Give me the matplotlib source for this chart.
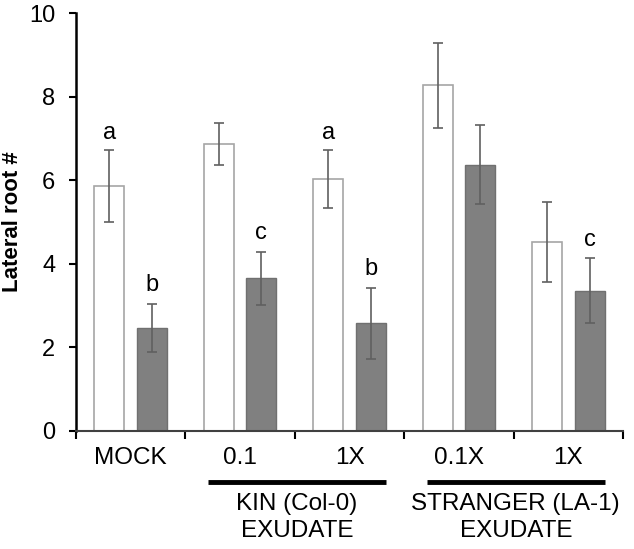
import numpy as np
import matplotlib
matplotlib.use("Agg")
import matplotlib.pyplot as plt

plt.rcParams['font.family'] = ['Liberation Sans', 'DejaVu Sans']

# data
categories = ["MOCK", "0.1", "1X", "0.1X", "1X"]
white_vals = [5.86, 6.86, 6.03, 8.27, 4.53]
white_err = [0.86, 0.50, 0.69, 1.02, 0.96]
gray_vals = [2.46, 3.65, 2.57, 6.37, 3.35]
gray_err = [0.57, 0.64, 0.86, 0.95, 0.78]
white_letters = ["a", "", "a", "", ""]
gray_letters = ["b", "c", "b", "", "c"]
group_labels = ["KIN (Col-0)\nEXUDATE", "STRANGER (LA-1)\nEXUDATE"]
group_spans = [(1, 2), (3, 4)]

fig = plt.figure(figsize=(6.34, 5.49), dpi=100)
ax = fig.add_axes([0.1199, 0.2155, 0.8627, 0.7603])

x = np.arange(len(categories))
w = 0.275
off = 0.195
ax.bar(x - off, white_vals, w, color="white", edgecolor="#a6a6a6", linewidth=1.2, zorder=2)
ax.bar(x + off, gray_vals, w, color="#808080", edgecolor="#707070", linewidth=1.0, zorder=2)
ax.errorbar(x - off, white_vals, yerr=white_err, fmt="none", ecolor="#606060",
            elinewidth=1.2, capsize=3.5, capthick=1.2, zorder=3)
ax.errorbar(x + off, gray_vals, yerr=gray_err, fmt="none", ecolor="#606060",
            elinewidth=1.2, capsize=3.5, capthick=1.2, zorder=3)

for i in range(len(categories)):
    if white_letters[i]:
        ax.text(x[i] - off, white_vals[i] + white_err[i] + 0.42, white_letters[i],
                ha="center", va="center", fontsize=17)
    if gray_letters[i]:
        ax.text(x[i] + off, gray_vals[i] + gray_err[i] + 0.45, gray_letters[i],
                ha="center", va="center", fontsize=17)

ax.set_xlim(-0.5, len(categories) - 0.5)
ax.set_ylim(0, 10)
ax.set_yticks(np.arange(0, 11, 2))
ax.tick_params(axis="y", labelsize=17, length=5, width=1.5, direction="out", pad=10)
ax.set_xticks(x)
ax.set_xticklabels(categories, fontsize=17.5)
ax.tick_params(axis="x", length=0, pad=12)
ax.set_xticks(np.arange(-0.5, len(categories), 1), minor=True)
ax.tick_params(axis="x", which="minor", length=6, width=1.5, direction="out")
ax.set_ylabel("Lateral root #", fontsize=16, fontweight="bold")
ax.yaxis.set_label_coords(-0.117, 0.5)
ax.yaxis.label.set_va("center")

for s in ["top", "right"]:
    ax.spines[s].set_visible(False)
ax.spines["left"].set_linewidth(1.8)
ax.spines["bottom"].set_linewidth(1.5)
ax.spines["bottom"].set_color("#404040")

# group lines and labels below axis
for (a, b), lab in zip(group_spans, group_labels):
    x0 = a - off - w / 2 + 0.04
    x1 = b + off + w / 2
    ax.plot([x0, x1], [-1.24, -1.24], color="black", linewidth=3.5,
            clip_on=False, solid_capstyle="butt")
    ax.text((a + b) / 2 + 0.02, -1.5, lab, ha="center", va="top",
            fontsize=17.5, linespacing=1.25)

fig.savefig("out.png", dpi=100)
